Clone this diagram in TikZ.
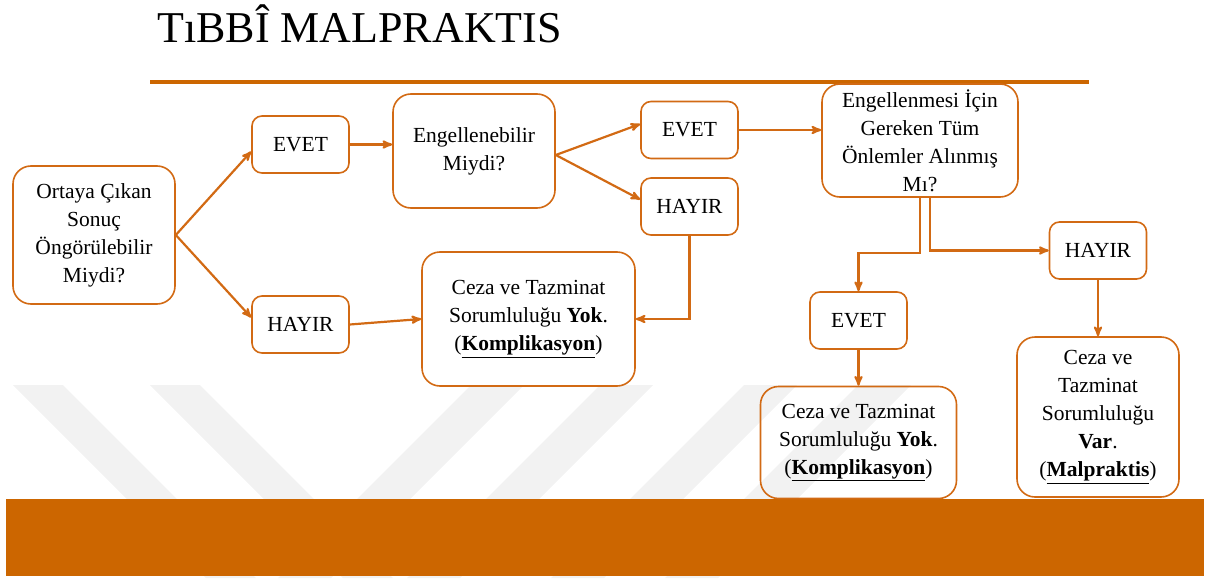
\documentclass[tikz,border=0pt]{standalone}
\usepackage{fontspec}
\setmainfont{Liberation Serif}
\usepackage{tikz}
\usetikzlibrary{positioning, arrows}
\definecolor{barorange}{RGB}{204,102,0}
\definecolor{lineorange}{RGB}{210,106,20}
\tikzset{
>=stealth', % makes the arrow heads bold
on grid, % node distances are measured between centres
box/.style={draw=lineorange, line width=1.6pt, align=center, inner sep=0pt, font=\fontsize{21.5}{28}\selectfont}, % sets the look of every box
question/.style={box, rounded corners=18pt}, % the large boxes
answer/.style={box, rounded corners=10pt, minimum width=97pt, minimum height=57pt}, % the EVET / HAYIR boxes
link/.style={->, draw=lineorange, line width=2.2pt}, % the connectors
}

\begin{document}
\begin{tikzpicture}[x=1pt, y=-1pt]
                \useasboundingbox (0,0) rectangle (1209,578);
                % faint watermark behind the chart
                \foreach \s in {13,150} \fill[black!5] (\s,385) -- ++(50,0) -- ++(193,193) -- ++(-50,0) -- cycle;
                \foreach \s in {471,600,744,858} \fill[black!5] (\s,385) -- ++(53,0) -- ++(-193,193) -- ++(-53,0) -- cycle;

                \node[anchor=base west, inner sep=0pt, font=\fontsize{44}{50}\selectfont] (title) at (157,42) {TıBBÎ MALPRAKTIS};
                \draw[barorange, line width=3.5pt] (150,82) -- (1089,82);
                \fill[barorange] (6,499) rectangle (1204,576);

                \node[question, minimum width=162pt, minimum height=138pt] (ortaya) at (94,235) {Ortaya Çıkan\\Sonuç\\Öngörülebilir\\Miydi?};
                \node[answer, above right=90.5pt and 206.5pt of ortaya] (evet1) {EVET};
                \node[answer, below right=89.5pt and 206.5pt of ortaya] (hayir1) {HAYIR};
                \node[question, minimum width=162pt, minimum height=114pt, below right=6.5pt and 173.5pt of evet1] (engel) {Engellenebilir\\Miydi?};
                \node[answer, above right=21pt and 215.5pt of engel] (evet2) {EVET};
                \node[answer, below=76.5pt of evet2] (hayir2) {HAYIR};
                \node[question, minimum width=213pt, minimum height=134pt, above right=5.5pt and 228pt of hayir1] (ceza1) {Ceza ve Tazminat\\Sorumluluğu \textbf{Yok}.\\(\underline{\textbf{Komplikasyon}})};
                \node[question, minimum width=196pt, minimum height=113pt, below right=10.5pt and 230.5pt of evet2] (onlem) {Engellenmesi İçin\\Gereken Tüm\\Önlemler Alınmış\\Mı?};
                \node[answer, below right=110pt and 178pt of onlem] (hayir3) {HAYIR};
                \node[answer, below left=180pt and 61.5pt of onlem] (evet3) {EVET};
                \node[question, minimum width=196pt, minimum height=112pt, below=122pt of evet3] (ceza2) {Ceza ve Tazminat\\Sorumluluğu \textbf{Yok}.\\(\underline{\textbf{Komplikasyon}})};
                \node[question, minimum width=162pt, minimum height=160pt, below=166.5pt of hayir3] (ceza3) {Ceza ve\\Tazminat\\Sorumluluğu\\\textbf{Var}.\\(\underline{\textbf{Malpraktis}})};

                \draw[link] (ortaya.east) -- ([yshift=-7pt]evet1.west);
                \draw[link] (ortaya.east) -- ([yshift=7pt]hayir1.west);
                \draw[link] (evet1.east) -- (evet1.east -| engel.west);
                \draw[link] (hayir1.east) -- (ceza1.west);
                \coordinate (fork) at ([yshift=-4pt]engel.east);
                \draw[link] (fork) -- ([yshift=6pt]evet2.west);
                \draw[link] (fork) -- ([yshift=7pt]hayir2.west);
                \draw[link] (hayir2.south) |- (ceza1.east);
                \draw[link] (evet2.east) -- (evet2.east -| onlem.west);
                \draw[link] (onlem.south) -- ++(0,55) -| (evet3.north);
                \draw[link] ([xshift=10pt]onlem.south) |- (hayir3.west);
                \draw[link] (hayir3.south) -- (hayir3.south |- ceza3.north);
                \draw[link] (evet3.south) -- (ceza2.north);
            \end{tikzpicture}
\end{document}
